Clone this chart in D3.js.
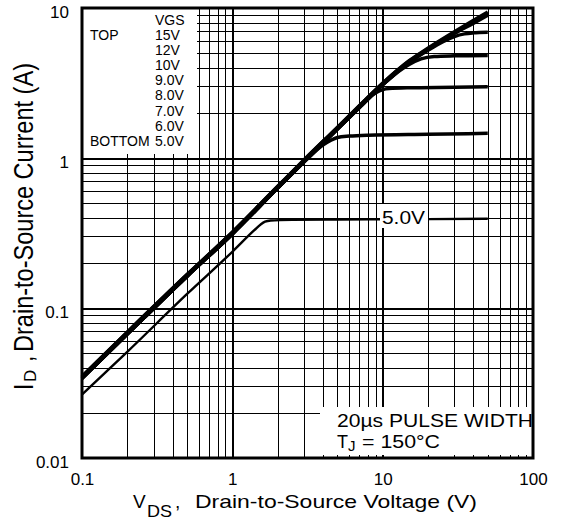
<!DOCTYPE html>
<html><head><meta charset="utf-8">
<script src="https://cdn.jsdelivr.net/npm/d3@7"></script>
<style>
body{margin:0;background:#fff}
svg{display:block}
text{font-family:"Liberation Sans",Arial,Helvetica,sans-serif;fill:#000}
</style>
</head><body>
<svg id="chart" width="566" height="522"></svg>
<script>
// ---- data ----
const xTickValues = [0.1, 1, 10, 100];
const xTickLabels = ["0.1", "1", "10", "100"];
const yTickValues = [0.01, 0.1, 1, 10];
const yTickLabels = ["0.01", "0.1", "1", "10"];
const legendTitle = "VGS";
const legendLabels = ["15V", "12V", "10V", "9.0V", "8.0V", "7.0V", "6.0V", "5.0V"];

const curve15V = [[0.1,0.035],[0.2,0.069],[0.5,0.167],[1,0.32],[2,0.645],[3,0.97],[5,1.6],[7,2.23],[10,3.15],[15,4.45],[20,5.4],[30,6.95],[40,8.25],[50,9.4]];
const curve12V = [[0.1,0.035],[0.2,0.069],[0.5,0.167],[1,0.32],[2,0.645],[3,0.97],[5,1.6],[7,2.23],[10,3.15],[15,4.42],[20,5.35],[30,6.85],[40,8.05],[50,9.15]];
const curve10V = [[0.1,0.034],[0.2,0.067],[0.5,0.163],[1,0.312],[2,0.63],[3,0.945],[5,1.56],[7,2.17],[10,3.08],[15,4.35],[20,5.28],[30,6.75],[40,7.9],[50,8.95]];
const curve9V  = [[0.1,0.034],[0.2,0.067],[0.5,0.163],[1,0.312],[2,0.63],[3,0.945],[5,1.56],[7,2.17],[10,3.08],[15,4.33],[20,5.22],[25,5.95],[30,6.45],[35,6.72],[40,6.83],[50,6.9]];
const curve8V  = [[0.1,0.034],[0.2,0.067],[0.5,0.163],[1,0.312],[2,0.63],[3,0.945],[5,1.56],[7,2.17],[10,3.08],[12,3.6],[15,4.2],[18,4.58],[22,4.75],[30,4.8],[50,4.83]];
const curve7V  = [[0.1,0.034],[0.2,0.067],[0.5,0.163],[1,0.312],[2,0.63],[3,0.945],[5,1.56],[7,2.17],[8,2.48],[9,2.72],[10,2.86],[11,2.91],[15,2.94],[30,2.96],[50,2.98]];
const curve6V  = [[0.1,0.034],[0.2,0.067],[0.5,0.163],[1,0.312],[2,0.63],[3,0.945],[4,1.22],[4.5,1.31],[5,1.37],[6,1.4],[8,1.42],[20,1.44],[50,1.46]];
const curve5V  = [[0.1,0.0265],[0.2,0.051],[0.5,0.124],[1,0.237],[1.4,0.33],[1.55,0.362],[1.65,0.376],[1.8,0.383],[2.5,0.387],[5,0.389],[10,0.39],[20,0.391],[50,0.394]];

// ---- layout ----
const L = 82, R = 533, T = 8, B = 458;
const svg = d3.select("#chart");
const x = d3.scaleLog().domain([0.1, 100]).range([L, R]);
const y = d3.scaleLog().domain([0.01, 10]).range([B, T]);

function minorValues(decades){
  const out = [];
  decades.forEach(d => { for (let k = 2; k <= 9; k++) out.push(+(k*d).toPrecision(3)); });
  return out;
}
const xMinor = minorValues([0.1, 1, 10]);
const yMinor = minorValues([0.01, 0.1, 1]);

// minor grid
const gx = svg.append("g").attr("transform", `translate(0,${B})`)
  .call(d3.axisBottom(x).tickValues(xMinor).tickSize(-(B - T)).tickFormat(""));
const gy = svg.append("g").attr("transform", `translate(${L},0)`)
  .call(d3.axisLeft(y).tickValues(yMinor).tickSize(-(R - L)).tickFormat(""));
[gx, gy].forEach(g => {
  g.select(".domain").remove();
  g.selectAll("line").attr("stroke", "#000").attr("stroke-width", 1).attr("shape-rendering", "crispEdges");
});
// major grid
const gxM = svg.append("g").attr("transform", `translate(0,${B})`)
  .call(d3.axisBottom(x).tickValues([1, 10]).tickSize(-(B - T)).tickFormat(""));
const gyM = svg.append("g").attr("transform", `translate(${L},0)`)
  .call(d3.axisLeft(y).tickValues([0.1, 1]).tickSize(-(R - L)).tickFormat(""));
[gxM, gyM].forEach(g => {
  g.select(".domain").remove();
  g.selectAll("line").attr("stroke", "#000").attr("stroke-width", 2).attr("shape-rendering", "crispEdges");
});

// legend box (white)
svg.append("rect").attr("x", L).attr("y", T).attr("width", 197 - L).attr("height", 154 - T).attr("fill", "#fff");
// bottom-right note box
svg.append("rect").attr("x", 320).attr("y", 407).attr("width", R - 320).attr("height", 455 - 407).attr("fill", "#fff");

// curves
const line = d3.line().x(d => x(d[0])).y(d => y(d[1])).curve(d3.curveMonotoneX);
const curves = [
  {data: curve6V, w: 3.5}, {data: curve7V, w: 3.5}, {data: curve8V, w: 3.5}, {data: curve9V, w: 3.5},
  {data: curve10V, w: 3.5}, {data: curve12V, w: 3.5}, {data: curve15V, w: 3.5}, {data: curve5V, w: 2.4}
];
svg.append("g").selectAll("path").data(curves).join("path")
  .attr("d", d => line(d.data)).attr("fill", "none").attr("stroke", "#000")
  .attr("stroke-width", d => d.w).attr("stroke-linejoin", "round").attr("stroke-linecap", "butt");

// 5.0V label
svg.append("rect").attr("x", 380).attr("y", 204).attr("width", 48).attr("height", 24).attr("fill", "#fff");
svg.append("text").attr("x", 382).attr("y", 224).attr("font-size", 18)
  .attr("textLength", 43).attr("lengthAdjust", "spacingAndGlyphs").text(legendLabels[7]);

// frame
svg.append("rect").attr("x", L).attr("y", T).attr("width", R - L).attr("height", B - T)
  .attr("fill", "none").attr("stroke", "#000").attr("stroke-width", 3);

// tick labels
const ax = svg.append("g").attr("transform", `translate(0,${B})`)
  .call(d3.axisBottom(x).tickValues(xTickValues).tickSize(0).tickPadding(0).tickFormat((d, i) => xTickLabels[i]));
ax.select(".domain").remove();
ax.selectAll("text").attr("font-size", 17).attr("font-family", null).attr("dy", null).attr("y", 27).attr("fill", "#000");
const ay = svg.append("g").attr("transform", `translate(${L},0)`)
  .call(d3.axisLeft(y).tickValues(yTickValues).tickSize(0).tickPadding(0).tickFormat((d, i) => yTickLabels[i]));
ay.select(".domain").remove();
ay.selectAll("text").attr("font-size", 17).attr("font-family", null).attr("dy", null).attr("x", -13).attr("y", 9).attr("fill", "#000");

// legend text
const lg = svg.append("g").attr("font-size", 14);
lg.append("text").attr("x", 155).attr("y", 25).text(legendTitle);
legendLabels.forEach((t, i) => lg.append("text").attr("x", 155).attr("y", 40 + i * 15.1).text(t));
lg.append("text").attr("x", 90).attr("y", 40).text("TOP");
lg.append("text").attr("x", 90).attr("y", 40 + 7 * 15.1).text("BOTTOM");

// note text
svg.append("text").attr("x", 337).attr("y", 427).attr("font-size", 18)
  .attr("textLength", 196).attr("lengthAdjust", "spacingAndGlyphs").text("20µs PULSE WIDTH");
svg.append("text").attr("x", 337).attr("y", 448).attr("font-size", 18).text("T");
svg.append("text").attr("x", 348).attr("y", 451).attr("font-size", 15).text("J");
svg.append("text").attr("x", 362).attr("y", 448).attr("font-size", 18)
  .attr("textLength", 78).attr("lengthAdjust", "spacingAndGlyphs").text("= 150°C");

// x title
svg.append("text").attr("x", 133).attr("y", 508).attr("font-size", 19).text("V");
svg.append("text").attr("x", 147).attr("y", 517).attr("font-size", 17)
  .attr("textLength", 25).attr("lengthAdjust", "spacingAndGlyphs").text("DS");
svg.append("text").attr("x", 175).attr("y", 508).attr("font-size", 19).text(",");
svg.append("text").attr("x", 195).attr("y", 508).attr("font-size", 19)
  .attr("textLength", 282).attr("lengthAdjust", "spacingAndGlyphs").text("Drain-to-Source Voltage (V)");

// y title (rotated)
const yt = svg.append("g");
yt.append("g").attr("transform", "translate(33,390) scale(1.2,1) rotate(-90)")
  .append("text").attr("font-size", 23).text("I");
yt.append("g").attr("transform", "translate(36,382) rotate(-90)")
  .append("text").attr("font-size", 17).text("D");
yt.append("g").attr("transform", "translate(33,362) scale(1.2,1) rotate(-90)")
  .append("text").attr("font-size", 23).text(",");
yt.append("g").attr("transform", "translate(33,352) scale(1.2,1) rotate(-90)")
  .append("text").attr("font-size", 23)
  .attr("textLength", 289).attr("lengthAdjust", "spacingAndGlyphs").text("Drain-to-Source Current (A)");
</script>
</body></html>
